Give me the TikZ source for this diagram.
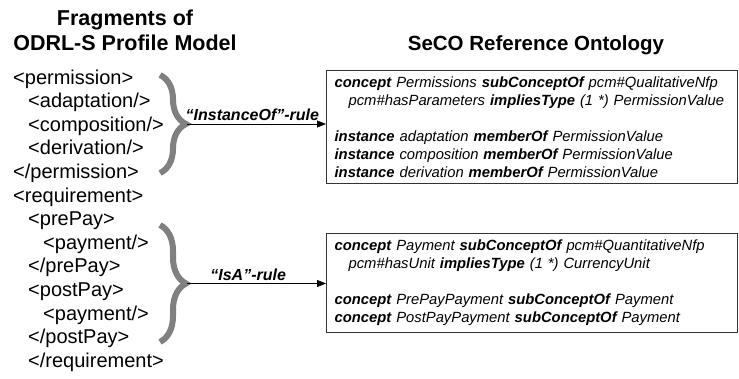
\documentclass[tikz,border=0pt]{standalone}
\usepackage{fontspec}
\setmainfont{Liberation Sans}
\usetikzlibrary{positioning}
\usetikzlibrary{arrows.meta}
\usetikzlibrary{decorations.pathreplacing}
\tikzset{>={Triangle[length=9pt,width=7pt]}}
\tikzset{xml/.style={inner sep=0pt,font=\fontsize{20}{24}\selectfont}}
\tikzset{head/.style={inner sep=0pt,font=\fontsize{21.5}{25}\selectfont\bfseries}}
\tikzset{onto/.style={draw=black!80,line width=1.2pt,anchor=north west,inner xsep=8pt,text width=395pt,align=left,font=\fontsize{14.8}{18}\selectfont\itshape}}
\tikzset{curly/.style={draw=gray,line width=6pt,decorate,decoration={brace,amplitude=26pt}}}
\tikzset{rl/.style={above,inner sep=3pt,font=\fontsize{16}{18}\selectfont\bfseries\itshape}}
\newcommand{\kw}[1]{\textbf{#1}}

\begin{document}
\begin{tikzpicture}[x=1pt,y=-1pt,on grid]
    \useasboundingbox (0,0) rectangle (739,378);

    \node[head, anchor=base] (frag) at (125,25) {Fragments of};
    \node[head, below=25pt of frag.base, anchor=base] (odrl) {ODRL-S Profile Model};
    \node[head, anchor=base, font=\fontsize{20.5}{25}\selectfont\bfseries] (seco) at (536,50) {SeCO Reference Ontology};

    \node[xml, anchor=base west] (perm) at (13,84) {<permission>};
    \node[xml, below right=23.6pt and 15pt of perm.base west, anchor=base west] (adapt) {<adaptation/>};
    \node[xml, below=23.6pt of adapt.base west, anchor=base west] (comp) {<composition/>};
    \node[xml, below=23.6pt of comp.base west, anchor=base west] (deriv) {<derivation/>};
    \node[xml, below left=23.6pt and 15pt of deriv.base west, anchor=base west] (eperm) {</permission>};
    \node[xml, below=23.6pt of eperm.base west, anchor=base west] (req) {<requirement>};
    \node[xml, below right=23.6pt and 15pt of req.base west, anchor=base west] (pre) {<prePay>};
    \node[xml, below right=23.6pt and 15pt of pre.base west, anchor=base west] (pay1) {<payment/>};
    \node[xml, below left=23.6pt and 15pt of pay1.base west, anchor=base west] (epre) {</prePay>};
    \node[xml, below=23.6pt of epre.base west, anchor=base west] (post) {<postPay>};
    \node[xml, below right=23.6pt and 15pt of post.base west, anchor=base west] (pay2) {<payment/>};
    \node[xml, below left=23.6pt and 15pt of pay2.base west, anchor=base west] (epost) {</postPay>};
    \node[xml, below=23.6pt of epost.base west, anchor=base west] (ereq) {</requirement>};

    \node[onto, minimum height=113pt] (perms) at (326,70) {%
        \kw{concept} Permissions \kw{subConceptOf} pcm\#QualitativeNfp\\
        \hspace*{14pt}pcm\#hasParameters \kw{impliesType} (1 *) PermissionValue\\[18pt]
        \kw{instance} adaptation \kw{memberOf} PermissionValue\\
        \kw{instance} composition \kw{memberOf} PermissionValue\\
        \kw{instance} derivation \kw{memberOf} PermissionValue};
    \node[onto, minimum height=99pt] (pays) at (326,233) {%
        \kw{concept} Payment \kw{subConceptOf} pcm\#QuantitativeNfp\\
        \hspace*{14pt}pcm\#hasUnit \kw{impliesType} (1 *) CurrencyUnit\\[18pt]
        \kw{concept} PrePayPayment \kw{subConceptOf} Payment\\
        \kw{concept} PostPayPayment \kw{subConceptOf} Payment};

    \draw[curly] (160,75) -- (160,173);
    \draw[curly] (160,225) -- (160,342);
    \coordinate (tip1) at (187,124);
    \coordinate (tip2) at (187,283.5);

    \draw[->] (tip1) -- (tip1 -| perms.west) node[rl, pos=0.47] {“InstanceOf”-rule};
    \draw[->] (tip2) -- (tip2 -| pays.west) node[rl, pos=0.44] {“IsA”-rule};
\end{tikzpicture}
\end{document}
